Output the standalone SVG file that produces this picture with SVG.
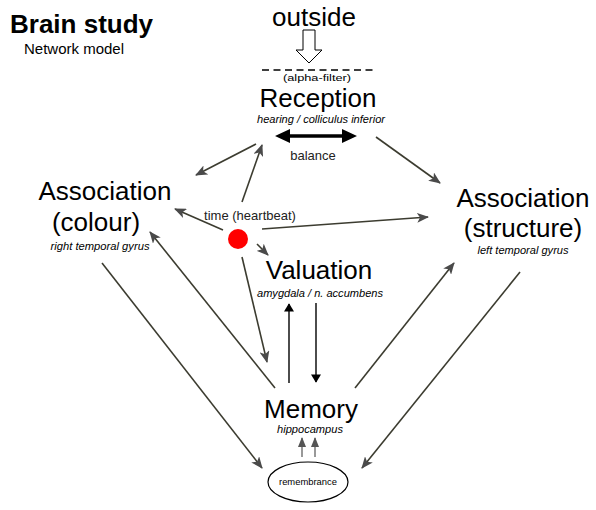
<svg xmlns="http://www.w3.org/2000/svg" width="596" height="510" viewBox="0 0 596 510">
<style>
text{font-family:"Liberation Sans",Arial,sans-serif;fill:#000}
.big{font-size:26px}
.sm{font-size:11px;font-style:italic}
.lbl{font-size:13px;fill:#222}
.c{stroke:#3c3c30;stroke-width:1.6;fill:none;marker-end:url(#ah)}
.k{stroke:#000;stroke-width:1.4;fill:none;marker-end:url(#kh)}
.g{stroke:#555;stroke-width:1.2;fill:none;marker-end:url(#sh)}
</style>
<defs>
<marker id="ah" viewBox="0 0 12 10" refX="11" refY="5" markerWidth="12" markerHeight="10" markerUnits="userSpaceOnUse" orient="auto">
<path d="M0,0 L12,5 L0,10 L3,5 Z" fill="#4a4a4a"/>
</marker>
<marker id="kh" viewBox="0 0 10 12" refX="9" refY="6" markerWidth="12" markerHeight="10" markerUnits="userSpaceOnUse" orient="auto">
<path d="M0,0 L10,6 L0,12 Z" fill="#000"/>
</marker>
<marker id="sh" viewBox="0 0 10 8" refX="9" refY="4" markerWidth="10" markerHeight="8" markerUnits="userSpaceOnUse" orient="auto">
<path d="M0,0 L10,4 L0,8 Z" fill="#555"/>
</marker>
</defs>
<g id="title">
<text x="10" y="33" font-size="26" font-weight="bold">Brain study</text>
<text x="24" y="54" font-size="15">Network model</text>
</g>
<g id="outside">
<text x="314" y="26" class="big" text-anchor="middle">outside</text>
<path d="M303,30 L315,30 L315,50 L322,50 L309,63 L296,50 L303,50 Z" fill="#fff" stroke="#000" stroke-width="1"/>
</g>
<g id="filter">
<line x1="262" y1="70" x2="374" y2="70" stroke="#000" stroke-width="1.5" stroke-dasharray="7,4.5"/>
<text x="317" y="81" font-size="9.5" text-anchor="middle" textLength="68" lengthAdjust="spacingAndGlyphs">(alpha-filter)</text>
</g>
<g id="reception">
<text x="318" y="107" class="big" text-anchor="middle">Reception</text>
<text x="321" y="123" class="sm" text-anchor="middle" textLength="128" lengthAdjust="spacingAndGlyphs">hearing / colliculus inferior</text>
</g>
<g id="balance">
<line x1="288" y1="136" x2="344" y2="136" stroke="#000" stroke-width="3.5"/>
<path d="M275,136 L290,129 L290,143 Z M357,136 L342,129 L342,143 Z" fill="#000"/>
<text x="313" y="160" class="lbl" text-anchor="middle">balance</text>
</g>
<g id="assoc-colour">
<text x="105" y="200" class="big" text-anchor="middle">Association</text>
<text x="96" y="231" class="big" text-anchor="middle">(colour)</text>
<text x="100" y="250" class="sm" text-anchor="middle" textLength="99" lengthAdjust="spacingAndGlyphs">right temporal gyrus</text>
</g>
<g id="assoc-structure">
<text x="523" y="207" class="big" text-anchor="middle">Association</text>
<text x="523" y="237" class="big" text-anchor="middle">(structure)</text>
<text x="523" y="254" class="sm" text-anchor="middle" textLength="91" lengthAdjust="spacingAndGlyphs">left temporal gyrus</text>
</g>
<g id="time">
<circle cx="238" cy="239" r="10" fill="#f00"/>
<text x="250" y="220" class="lbl" text-anchor="middle">time (heartbeat)</text>
</g>
<g id="valuation">
<text x="319" y="279" class="big" text-anchor="middle">Valuation</text>
<text x="320" y="297" class="sm" text-anchor="middle" textLength="126" lengthAdjust="spacingAndGlyphs">amygdala / n. accumbens</text>
</g>
<g id="memory">
<text x="311" y="418" class="big" text-anchor="middle">Memory</text>
<text x="310" y="433" font-size="10" font-style="italic" text-anchor="middle" textLength="66" lengthAdjust="spacingAndGlyphs">hippocampus</text>
</g>
<g id="remembrance">
<ellipse cx="308" cy="482" rx="40" ry="20" fill="#fff" stroke="#000" stroke-width="1.2"/>
<text x="308" y="485" font-size="9" text-anchor="middle" textLength="58" lengthAdjust="spacingAndGlyphs">remembrance</text>
</g>
<g id="connectors">
<line class="c" x1="256" y1="144" x2="196" y2="175"/>
<line class="c" x1="242" y1="202" x2="262" y2="145"/>
<line class="c" x1="376" y1="137" x2="440" y2="183"/>
<line class="c" x1="223" y1="230" x2="175" y2="209"/>
<line class="c" x1="262" y1="229" x2="428" y2="217"/>
<line class="c" x1="257" y1="244" x2="268" y2="255"/>
<line class="c" x1="242" y1="257" x2="267" y2="362"/>
<line class="c" x1="275" y1="388" x2="150" y2="232"/>
<line class="c" x1="355" y1="388" x2="454" y2="263"/>
<line class="c" x1="102" y1="263" x2="262" y2="468"/>
<line class="c" x1="520" y1="272" x2="362" y2="468"/>
<line class="k" x1="289" y1="383" x2="289" y2="304"/>
<line class="k" x1="316" y1="303" x2="316" y2="382"/>
<line class="g" x1="302" y1="457" x2="302" y2="438"/>
<line class="g" x1="315" y1="457" x2="315" y2="438"/>
</g>
</svg>
